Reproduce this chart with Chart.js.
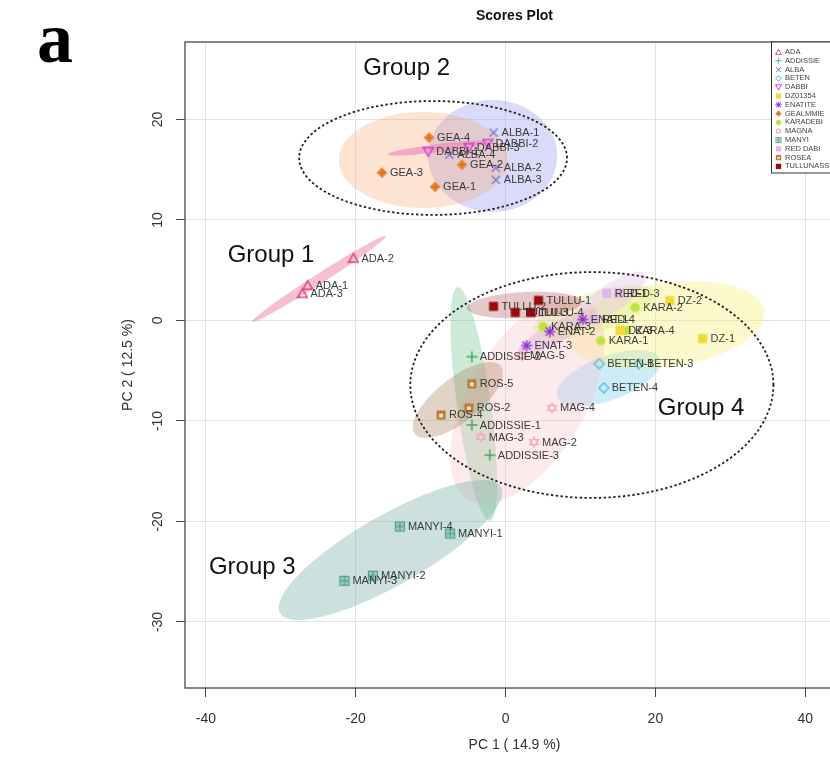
<!DOCTYPE html>
<html>
<head>
<meta charset="utf-8">
<script src="https://cdn.jsdelivr.net/npm/chart.js@4.4.1/dist/chart.umd.min.js"></script>
<style>
  html, body { margin: 0; padding: 0; background: #fff; overflow: hidden; }
  #wrap { position: relative; width: 850px; height: 764px; }
</style>
</head>
<body>
<div id="wrap"><canvas id="scores" width="850" height="764"></canvas></div>
<script>
// Cultivars (legend order)
const cultivars = ['ADA', 'ADDISSIE', 'ALBA', 'BETEN', 'DABBI', 'DZ01354', 'ENATITE', 'GEALMMIE',
    'KARADEBI', 'MAGNA', 'MANYI', 'RED DABI', 'ROSEA', 'TULLUNASSI'];

// Sample scores on PC1 / PC2
const sampleNames = [
    'ADA-1', 'ADA-2', 'ADA-3',
    'ADDISSIE-1', 'ADDISSIE-2', 'ADDISSIE-3',
    'ALBA-1', 'ALBA-2', 'ALBA-3', 'ALBA-4',
    'BETEN-1', 'BETEN-3', 'BETEN-4',
    'DABBI-1', 'DABBI-2', 'DABBI-3',
    'DZ-1', 'DZ-2', 'DZ-3',
    'ENAT-1', 'ENAT-2', 'ENAT-3',
    'GEA-1', 'GEA-2', 'GEA-3', 'GEA-4',
    'KARA-1', 'KARA-2', 'KARA-3', 'KARA-4',
    'MAG-2', 'MAG-3', 'MAG-4', 'MAG-5',
    'MANYI-1', 'MANYI-2', 'MANYI-3', 'MANYI-4',
    'RED-1', 'RED-3', 'RED-4',
    'ROS-2', 'ROS-4', 'ROS-5',
    'TULLU-1', 'TULLU-2', 'TULLU-3', 'TULLU-4'
];
const sampleCultivar = [
    0, 0, 0,
    1, 1, 1,
    2, 2, 2, 2,
    3, 3, 3,
    4, 4, 4,
    5, 5, 5,
    6, 6, 6,
    7, 7, 7, 7,
    8, 8, 8, 8,
    9, 9, 9, 9,
    10, 10, 10, 10,
    11, 11, 11,
    12, 12, 12,
    13, 13, 13, 13
];
const pc1 = [
    -26.4, -20.3, -27.1,
    -4.5, -4.5, -2.1,
    -1.6, -1.3, -1.3, -7.5,
    12.5, 17.8, 13.1,
    -10.3, -2.4, -4.9,
    26.3, 21.9, 15.3,
    10.3, 5.9, 2.8,
    -9.4, -5.8, -16.5, -10.2,
    12.7, 17.3, 5.0, 16.2,
    3.8, -3.3, 6.2, 2.2,
    -7.4, -17.7, -21.5, -14.1,
    13.5, 15.1, 11.8,
    -4.9, -8.6, -4.5,
    4.4, -1.6, 1.3, 3.4
];
const pc2 = [
    3.5, 6.2, 2.7,
    -10.4, -3.6, -13.4,
    18.7, 15.2, 14.0, 16.5,
    -4.3, -4.3, -6.7,
    16.8, 17.6, 17.2,
    -1.8, 2.0, -1.0,
    0.1, -1.1, -2.5,
    13.3, 15.5, 14.7, 18.2,
    -2.0, 1.3, -0.6, -1.0,
    -12.1, -11.6, -8.7, -3.5,
    -21.2, -25.4, -25.9, -20.5,
    2.7, 2.7, 0.1,
    -8.7, -9.4, -6.3,
    2.0, 1.4, 0.8, 0.8
];

// 95% ellipses per cultivar: centre and two half-axis vectors (PC units)
const ellCx = [-24.9, -4.24, -1.72, 13.77, -8.87, 21.46, 6.89, -10.99, 11.92, 2.91, -15.36, 13.77, -6.36, 2.52];
const ellCy = [4.13, -8.31, 16.37, -5.72, 17.16, -0.45, -1.14, 15.97, 0.85, -7.91, -22.84, 2.04, -7.91, 1.54];
const ellUx = [8.93, -2.17, 8.61, 6.85, 6.84, 13.11, 5.26, 11.26, 8.23, 7.91, 14.75, 4.88, 5.74, 7.68];
const ellUy = [4.27, 11.62, 0, 1.87, 0.63, 1.38, 2.10, 0, 1.89, 9.89, 6.27, 2.57, 3.37, 0.30];
const ellVx = [-0.36, -2.23, 0, -1.0, -0.06, -0.77, -0.62, 0, -0.77, -6.6, -2.28, -1.06, -1.79, -0.09];
const ellVy = [0.42, -0.24, 5.57, 2.06, 0.40, 4.14, 0.88, 4.78, 1.90, 3.0, 3.03, 1.14, 1.72, 1.29];

// Group annotations
const groupNames = ['Group 1', 'Group 2', 'Group 3', 'Group 4'];
const groupLabelX = [-31.3, -13.2, -33.8, 26.1];
const groupLabelY = [6.5, 25.1, -24.6, -8.7];
// dashed group ellipses (Group 2, Group 4)
const groupEllCx = [-9.67, 11.52];
const groupEllCy = [16.17, -6.42];
const groupEllRx = [17.88, 24.24];
const groupEllRy = [5.67, 11.24];

// Axis ticks
const xTicks = [-40, -20, 0, 20, 40];
const yTicks = [-30, -20, -10, 0, 10, 20];

// ---- styles ----
const markerColors = ['#d9456e', '#45a85f', '#7a7acc', '#4cc0e6', '#d63cd6', '#f0d930', '#8b2bd0', '#ee8a3a',
    '#bfe23c', '#f0a9b6', '#4f9e8f', '#dcb6ea', '#b07d3e', '#9c0b0b'];
const markerKinds = ['triangle', 'cross', 'crossRot', 'diamond', 'triangleDown', 'square', 'asterisk', 'gea',
    'circle', 'magna', 'manyi', 'square', 'rosea', 'square'];
const ellipseFills = [
    'rgba(238,140,170,0.55)', 'rgba(110,195,135,0.35)', 'rgba(150,150,240,0.35)', 'rgba(110,200,240,0.35)',
    'rgba(230,100,220,0.6)', 'rgba(248,238,120,0.38)', 'rgba(170,100,210,0.25)', 'rgba(246,175,125,0.35)',
    'rgba(205,235,110,0.3)', 'rgba(248,190,200,0.32)', 'rgba(110,170,160,0.35)', 'rgba(232,190,236,0.4)',
    'rgba(170,130,90,0.35)', 'rgba(150,40,40,0.25)'
];
const FONT = '"Liberation Sans", Arial, sans-serif';

function makeMarker(kind, color) {
    const c = document.createElement('canvas');
    c.width = 12; c.height = 12;
    const g = c.getContext('2d');
    g.strokeStyle = color; g.fillStyle = color; g.lineWidth = 1.5;
    const line = (a, b, d, e) => { g.beginPath(); g.moveTo(a, b); g.lineTo(d, e); g.stroke(); };
    const poly = (pts, fill) => {
        g.beginPath(); pts.forEach((p, i) => i ? g.lineTo(p[0], p[1]) : g.moveTo(p[0], p[1])); g.closePath();
        fill ? g.fill() : g.stroke();
    };
    switch (kind) {
        case 'triangle': poly([[6, 1.5], [10.8, 10], [1.2, 10]], false); break;
        case 'triangleDown': poly([[1.2, 2], [10.8, 2], [6, 10.5]], false); break;
        case 'cross': line(6, 0.5, 6, 11.5); line(0.5, 6, 11.5, 6); break;
        case 'crossRot': line(2, 2, 10, 10); line(10, 2, 2, 10); break;
        case 'diamond': g.lineWidth = 1.3; poly([[6, 1], [11, 6], [6, 11], [1, 6]], false); break;
        case 'square': g.fillRect(1.5, 1.5, 9, 9); break;
        case 'circle': g.beginPath(); g.arc(6, 6, 4.6, 0, Math.PI * 2); g.fill(); break;
        case 'asterisk':
            g.lineWidth = 1.4;
            line(6, 0.5, 6, 11.5); line(0.5, 6, 11.5, 6); line(2, 2, 10, 10); line(10, 2, 2, 10); break;
        case 'gea':
            poly([[6, 0.5], [11.5, 6], [6, 11.5], [0.5, 6]], true);
            g.strokeStyle = 'rgba(200,100,30,0.9)'; g.lineWidth = 1;
            line(6, 2.5, 6, 9.5); line(2.5, 6, 9.5, 6); break;
        case 'magna':
            g.lineWidth = 1.1;
            poly([[6, 1], [10.5, 8.5], [1.5, 8.5]], false); poly([[6, 11], [10.5, 3.5], [1.5, 3.5]], false); break;
        case 'manyi':
            g.globalAlpha = 0.35; g.fillRect(1.5, 1.5, 9, 9); g.globalAlpha = 1; g.lineWidth = 1.2;
            g.strokeRect(1.5, 1.5, 9, 9); line(6, 1.5, 6, 10.5); line(1.5, 6, 10.5, 6); break;
        case 'rosea':
            g.fillRect(1.5, 1.5, 9, 9); g.fillStyle = 'rgba(255,235,200,0.85)'; g.fillRect(4, 4.5, 4, 4);
            break;
    }
    return c;
}
const markers = markerKinds.map((k, i) => makeMarker(k, markerColors[i]));

// datasets: one per cultivar
const datasets = cultivars.map((name, ci) => {
    const idx = sampleCultivar.map((c, i) => c === ci ? i : -1).filter(i => i >= 0);
    return {
        label: name,
        data: idx.map(i => ({ x: pc1[i], y: pc2[i], name: sampleNames[i] })),
        pointStyle: markers[ci],
        pointRadius: 5,
        pointHoverRadius: 5
    };
});

function ellipsePath(ctx, xs, ys, cx, cy, ux, uy, vx, vy) {
    ctx.beginPath();
    for (let k = 0; k <= 90; k++) {
        const t = k / 90 * Math.PI * 2;
        const px = xs.getPixelForValue(cx + ux * Math.cos(t) + vx * Math.sin(t));
        const py = ys.getPixelForValue(cy + uy * Math.cos(t) + vy * Math.sin(t));
        if (k) ctx.lineTo(px, py); else ctx.moveTo(px, py);
    }
    ctx.closePath();
}

const scoresPlugin = {
    id: 'scoresPlot',
    beforeDatasetsDraw(chart) {
        const { ctx, chartArea: a, scales: { x, y } } = chart;
        ctx.save();
        ctx.beginPath(); ctx.rect(a.left, a.top, a.right - a.left, a.bottom - a.top); ctx.clip();
        cultivars.forEach((c, i) => {
            ellipsePath(ctx, x, y, ellCx[i], ellCy[i], ellUx[i], ellUy[i], ellVx[i], ellVy[i]);
            ctx.fillStyle = ellipseFills[i];
            ctx.fill();
        });
        ctx.setLineDash([2.4, 2.4]);
        ctx.lineWidth = 1.8;
        ctx.strokeStyle = '#222';
        groupEllCx.forEach((cx, i) => {
            ellipsePath(ctx, x, y, cx, groupEllCy[i], groupEllRx[i], 0, 0, groupEllRy[i]);
            ctx.stroke();
        });
        ctx.restore();
    },
    afterDatasetsDraw(chart) {
        const { ctx, chartArea: a, scales: { x, y } } = chart;
        ctx.save();
        ctx.beginPath(); ctx.rect(a.left, a.top, a.right - a.left, a.bottom - a.top); ctx.clip();
        // sample labels
        ctx.font = '11px ' + FONT;
        ctx.fillStyle = 'rgba(40,40,40,0.9)';
        ctx.textBaseline = 'middle';
        ctx.textAlign = 'left';
        sampleNames.forEach((n, i) => {
            ctx.fillText(n, x.getPixelForValue(pc1[i]) + 8, y.getPixelForValue(pc2[i]) + 0.5);
        });
        // group labels
        ctx.font = '24px ' + FONT;
        ctx.fillStyle = '#111';
        ctx.textAlign = 'center';
        groupNames.forEach((g, i) => {
            ctx.fillText(g, x.getPixelForValue(groupLabelX[i]), y.getPixelForValue(groupLabelY[i]));
        });
        ctx.restore();
    },
    afterDraw(chart) {
        const { ctx, chartArea: a } = chart;
        ctx.save();
        // frame
        ctx.strokeStyle = '#555';
        ctx.lineWidth = 1.4;
        ctx.strokeRect(a.left, a.top, a.right - a.left, a.bottom - a.top);
        // legend
        const lx = 771, ly = a.top, lw = a.right - lx, lh = 131;
        ctx.fillStyle = '#fff';
        ctx.fillRect(lx, ly, lw, lh);
        ctx.strokeStyle = '#333';
        ctx.lineWidth = 1;
        ctx.strokeRect(lx + 0.5, ly, lw, lh);
        ctx.font = '7.5px ' + FONT;
        ctx.textBaseline = 'middle';
        ctx.textAlign = 'left';
        ctx.fillStyle = '#444';
        cultivars.forEach((c, i) => {
            const yy = ly + 10 + i * 8.8;
            ctx.drawImage(markers[i], lx + 4, yy - 3.5, 7, 7);
            ctx.fillText(c, lx + 14, yy);
        });
        // title
        ctx.fillStyle = '#111';
        ctx.font = 'bold 14px ' + FONT;
        ctx.textAlign = 'center';
        ctx.fillText('Scores Plot', (a.left + a.right) / 2, 16);
        // panel letter
        ctx.font = 'bold 72px "Liberation Serif", "Times New Roman", serif';
        ctx.textAlign = 'left';
        ctx.textBaseline = 'alphabetic';
        ctx.fillStyle = '#000';
        ctx.fillText('a', 37, 62);
        ctx.restore();
    }
};

new Chart(document.getElementById('scores'), {
    type: 'scatter',
    data: { datasets: datasets },
    options: {
        responsive: false,
        animation: false,
        devicePixelRatio: 1,
        layout: { padding: { top: 42, right: 1, left: 0, bottom: 0 } },
        plugins: { legend: { display: false }, tooltip: { enabled: false } },
        scales: {
            x: {
                type: 'linear',
                min: -42.78, max: 45.17,
                afterFit: s => { s.height = 76; },
                afterBuildTicks: s => { s.ticks = xTicks.map(v => ({ value: v })); },
                grid: { color: '#e2e2e2', tickColor: '#444', tickLength: 9, lineWidth: 1 },
                border: { display: false },
                ticks: { color: '#333', font: { family: FONT, size: 14 }, padding: 14, maxRotation: 0 },
                title: { display: true, text: 'PC 1 ( 14.9 %)', color: '#333', font: { family: FONT, size: 14 },
                    padding: { top: 4, bottom: 10 } }
            },
            y: {
                type: 'linear',
                min: -36.57, max: 27.71,
                afterFit: s => { s.width = 185; },
                afterBuildTicks: s => { s.ticks = yTicks.map(v => ({ value: v })); },
                grid: { color: '#e2e2e2', tickColor: '#444', tickLength: 9, lineWidth: 1 },
                border: { display: false },
                ticks: { color: '#333', font: { family: FONT, size: 14 }, padding: 8,
                    minRotation: 90, maxRotation: 90, crossAlign: 'center' },
                title: { display: true, text: 'PC 2 ( 12.5 %)', color: '#333', font: { family: FONT, size: 14 },
                    padding: { top: 120, bottom: 0 } }
            }
        }
    },
    plugins: [scoresPlugin]
});
</script>
</body>
</html>
